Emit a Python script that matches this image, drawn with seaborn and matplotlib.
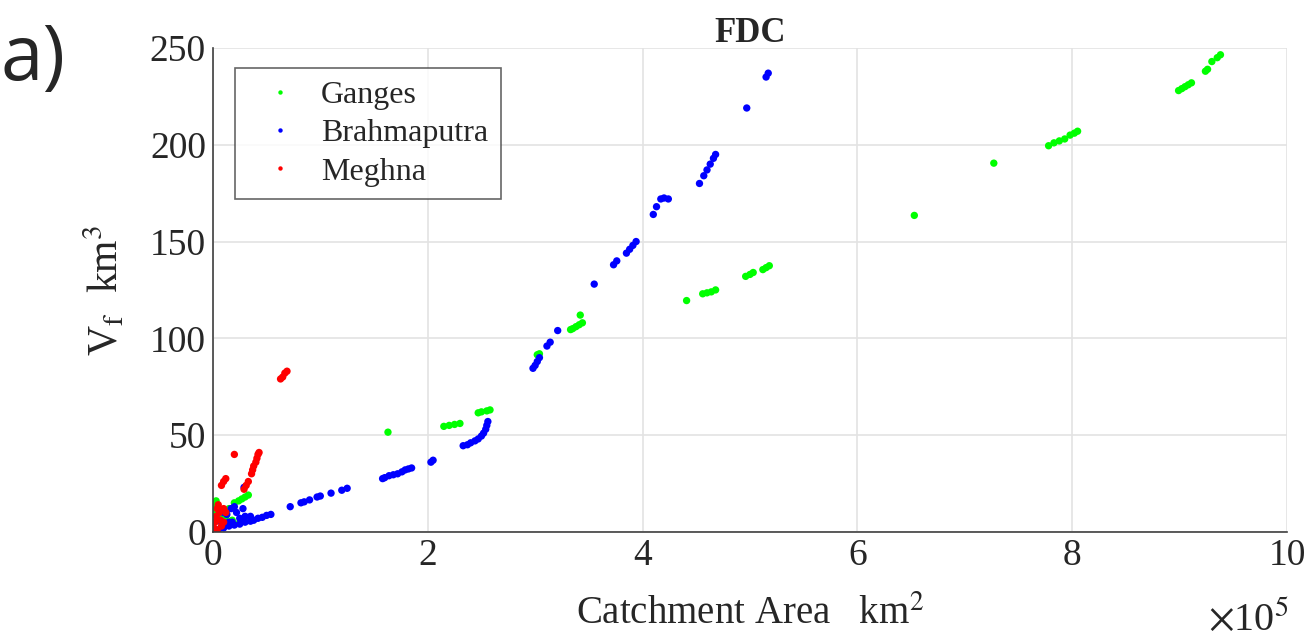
import matplotlib
matplotlib.use('Agg')
import matplotlib.pyplot as plt
import numpy as np
import pandas as pd
import seaborn as sns

# catchment area in units of 1e5 km2, V_f in km3
ganges_area = [9.38, 9.35, 9.30, 9.26, 9.24, 9.11, 9.08, 9.05, 9.02, 8.99,
               8.05, 8.02, 7.98, 7.93, 7.88, 7.83, 7.78, 7.27, 6.53,
               5.18, 5.15, 5.12, 5.03, 5.00, 4.96, 4.68, 4.64, 4.60, 4.56, 4.41,
               3.42, 3.44, 3.41, 3.38, 3.35, 3.33, 3.02, 3.04,
               2.58, 2.55, 2.50, 2.47, 2.30, 2.25, 2.20, 2.15, 1.63,
               0.33, 0.30, 0.27, 0.24, 0.20, 0.15, 0.03, 0.02, 0.01, 0.02, 0.05,
               0.08, 0.10, 0.12, 0.18, 0.25, 0.30]
ganges_vf = [246.5, 245, 243, 239, 238, 232, 231, 230, 229, 228,
             207, 206, 205, 203, 202, 201, 199.5, 190.5, 163.5,
             137.5, 136.5, 135.5, 134, 133, 132, 125, 124, 123.5, 123, 119.5,
             112, 108, 107, 106, 105, 104.5, 91.5, 92,
             63, 62.5, 62, 61.5, 56, 55.5, 55, 54.5, 51.5,
             19, 18, 17, 16, 15, 12, 16, 14, 12, 10, 11,
             9, 7, 8, 6, 5, 6]

brahma_area = [5.17, 5.15, 4.97, 4.68, 4.66, 4.63, 4.60, 4.57, 4.53,
               4.24, 4.20, 4.17, 4.13, 4.10, 3.94, 3.91, 3.88, 3.85, 3.76, 3.73, 3.55,
               3.21, 3.14, 3.11, 3.04, 3.02, 3.00, 2.98,
               2.56, 2.55, 2.54, 2.52, 2.50, 2.47, 2.44, 2.40, 2.37, 2.33,
               2.05, 2.03, 1.85, 1.82, 1.79, 1.76, 1.72, 1.68, 1.64, 1.60, 1.58,
               1.25, 1.20, 1.10, 1.00, 0.97, 0.90, 0.85, 0.82, 0.72,
               0.54, 0.50, 0.46, 0.42, 0.38, 0.35, 0.30, 0.25, 0.20, 0.15, 0.10, 0.05, 0.03,
               0.10, 0.13, 0.17, 0.20, 0.22, 0.28, 0.29, 0.15, 0.30, 0.25, 0.08, 0.12, 0.18, 0.35]
brahma_vf = [237, 235, 219, 195, 193, 190, 187, 184, 180,
             172, 172.5, 172, 168, 164, 150, 148, 146, 144, 140, 138, 128,
             104, 98, 96, 90, 88, 86, 84.5,
             57, 55, 53, 51, 49.5, 48, 47, 46, 45, 44.5,
             37, 36, 33, 32.5, 32, 31, 30, 29.5, 29, 28, 27.5,
             22.5, 21.5, 20, 18.5, 18, 16.5, 15.5, 15, 13,
             9, 8.5, 7.5, 7, 6, 5.5, 5, 4, 3.5, 3, 2, 1, 0.5,
             10, 9, 12, 13, 10, 12, 23, 5, 8, 7, 5, 4, 5, 8]

meghna_area = [0.69, 0.67, 0.65, 0.63, 0.20,
               0.43, 0.42, 0.41, 0.40, 0.38, 0.37, 0.36, 0.33, 0.31, 0.29,
               0.12, 0.10, 0.08,
               0.01, 0.02, 0.03, 0.04, 0.05, 0.06, 0.07, 0.08, 0.02, 0.10, 0.12, 0.10, 0.04]
meghna_vf = [83, 82, 80, 79, 40,
             41, 40, 38, 36, 34, 32, 30, 26, 24, 22,
             27.5, 26, 24,
             2, 5, 8, 12, 14, 10, 6, 3, 0.5, 12, 10, 5, 1]

rivers = ['Ganges', 'Brahmaputra', 'Meghna']
colors = ['#00ff00', '#0000ff', '#ff0000']

df = pd.concat([
    pd.DataFrame({'area': ganges_area, 'vf': ganges_vf, 'river': 'Ganges'}),
    pd.DataFrame({'area': brahma_area, 'vf': brahma_vf, 'river': 'Brahmaputra'}),
    pd.DataFrame({'area': meghna_area, 'vf': meghna_vf, 'river': 'Meghna'}),
], ignore_index=True)

sns.set_style('white')
plt.rcParams['font.family'] = ['Liberation Serif', 'DejaVu Serif']
plt.rcParams['mathtext.fontset'] = 'stix'

fig = plt.figure(figsize=(13.06, 6.4), dpi=100)
ax = fig.add_axes([0.163, 0.169, 0.8225, 0.756])

sns.scatterplot(data=df, x='area', y='vf', hue='river', hue_order=rivers,
                palette=colors, s=28, linewidth=0, ax=ax, legend=True)

ax.set_xlim(0, 10)
ax.set_ylim(0, 250)
ax.set_xticks([0, 2, 4, 6, 8, 10])
ax.set_yticks([0, 50, 100, 150, 200, 250])
ax.grid(True, color='#e3e3e3', linewidth=1.2)
ax.set_axisbelow(True)
for side in ['top', 'right']:
    ax.spines[side].set_visible(False)
for side in ['left', 'bottom']:
    ax.spines[side].set_color('#404040')
    ax.spines[side].set_linewidth(1.2)
ax.tick_params(direction='in', length=8, width=1.2, color='#404040',
               labelsize=27, labelcolor='#262626', pad=5)

ax.set_title('FDC', fontsize=25, fontweight='bold', pad=4)
ax.set_xlabel('Catchment Area   km$^2$', fontsize=28, color='#262626', labelpad=16)
ax.set_ylabel('V$_{\\rm f}$  km$^3$', fontsize=30, color='#262626', labelpad=16)
fig.text(0.925, 0.016, '$\\times$10$^5$', fontsize=29, color='#262626')
fig.text(0.0, 0.875, 'a)', fontsize=55, family=['Open Sans', 'DejaVu Sans'])

leg = ax.legend(loc='upper left', bbox_to_anchor=(0.0205, 0.959), fontsize=23,
                frameon=True, fancybox=False, edgecolor='#404040',
                markerscale=0.6, handletextpad=0.3, borderpad=0.4,
                borderaxespad=0, labelspacing=0.28, title=None)
leg.get_frame().set_linewidth(1.2)

fig.savefig('out.png', dpi=100)
